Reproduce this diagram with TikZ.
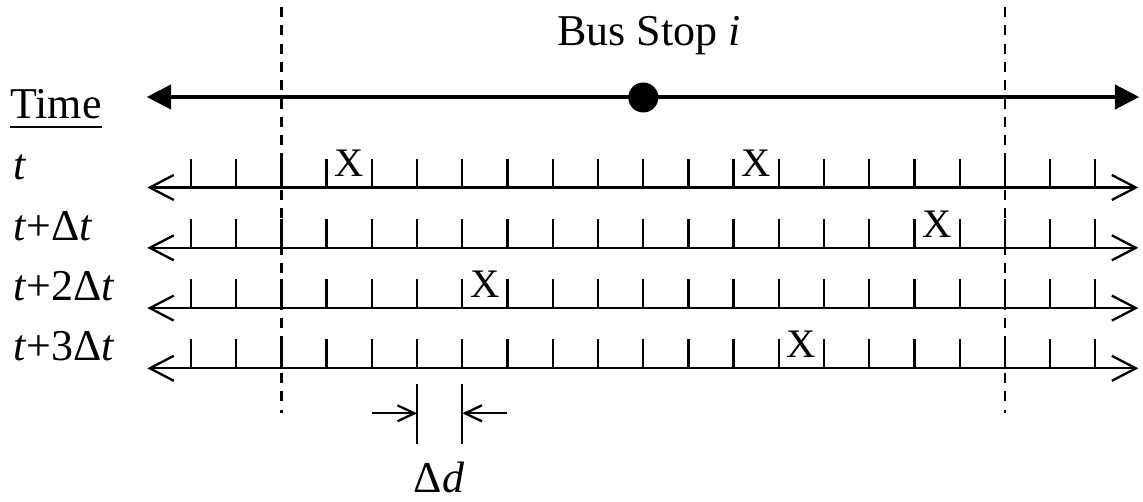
\documentclass[tikz,border=0pt]{standalone}
\usepackage{fontspec}
\setmainfont{Liberation Serif}
\usetikzlibrary{arrows.meta}
\begin{document}
\begin{tikzpicture}[x=1pt,y=-1pt,
  lab/.style={inner sep=0pt, font=\fontsize{44}{50}\selectfont},
  xmark/.style={inner sep=0pt, anchor=base, font=\fontsize{40.5}{46}\selectfont},
  axisline/.style={line width=2.3pt, {Straight Barb[length=24pt,width=25pt]}-{Straight Barb[length=24pt,width=25pt]}},
  tickline/.style={line width=2.3pt},
  busline/.style={line width=4.6pt, {Triangle[length=24.5pt,width=24pt]}-{Triangle[length=24.5pt,width=24pt]}},
  divider/.style={line width=2.4pt, dash pattern=on 10pt off 8.3pt},
  dimline/.style={line width=2.3pt},
  dimarrow/.style={line width=2.3pt, -{Straight Barb[length=17pt,width=16pt]}}
]
\useasboundingbox (0,0) rectangle (1143,501);

% bus route line with stop
\coordinate (busL) at (146.7,97);
\coordinate (busR) at (1139.3,97);
\draw[busline] (busL) -- (busR);
\node[circle, fill=black, minimum size=30pt, inner sep=0pt] (stop) at (643.3,97.5) {};
\node[lab, anchor=base] (stoplabel) at (649,45) {Bus Stop \textit{i}};

% time header
\node[lab, anchor=base west] (time) at (10,118.3) {Time};
\draw[line width=2pt] ([yshift=-8.4pt]time.base west) -- ([yshift=-8.4pt]time.base east);

% rows
\foreach \r/\yy/\txt in {1/187.5/{\textit{t}}, 2/247.8/{\textit{t}+Δ\textit{t}}, 3/308.1/{\textit{t}+2Δ\textit{t}}, 4/368.3/{\textit{t}+3Δ\textit{t}}} {
  \coordinate (r\r L) at (147.3,\yy);
  \coordinate (r\r R) at (1138.3,\yy);
  \draw[axisline] (r\r L) -- (r\r R);
  \foreach \k in {0,...,20} {
    \draw[tickline] (191+45.215*\k,\yy) -- (191+45.215*\k,\yy-29);
  }
  \node[lab, anchor=base west] (row\r) at (13,\yy-7.8) {\txt};
}

% vehicle marks
\node[xmark] (x1a) at (191+45.215*3.5,187.5-10.6) {X};
\node[xmark] (x1b) at (191+45.215*12.5,187.5-10.6) {X};
\node[xmark] (x2) at (191+45.215*16.5,247.8-10.6) {X};
\node[xmark] (x3) at (191+45.215*6.5,308.1-10.6) {X};
\node[xmark] (x4) at (191+45.215*13.5,368.3-10.6) {X};

% dashed boundaries
\coordinate (dLt) at (281.4,7);
\coordinate (dLb) at (281.4,413);
\coordinate (dRt) at (1004.9,7);
\coordinate (dRb) at (1004.9,413);
\draw[divider] (dLt) -- (dLb);
\draw[divider] (dRt) -- (dRb);

% delta d dimension
\coordinate (m1t) at (417.1,384);
\coordinate (m1b) at (417.1,443.5);
\coordinate (m2t) at (462.3,384);
\coordinate (m2b) at (462.3,443.5);
\draw[dimline] (m1t) -- (m1b);
\draw[dimline] (m2t) -- (m2b);
\coordinate (a1s) at (372.3,413.3);
\coordinate (a1e) at (417.1,413.3);
\coordinate (a2s) at (507.3,413.3);
\coordinate (a2e) at (462.3,413.3);
\draw[dimarrow] (a1s) -- (a1e);
\draw[dimarrow] (a2s) -- (a2e);
\node[lab, anchor=base] (dd) at (439,492.5) {Δ\textit{d}};
\end{tikzpicture}
\end{document}
